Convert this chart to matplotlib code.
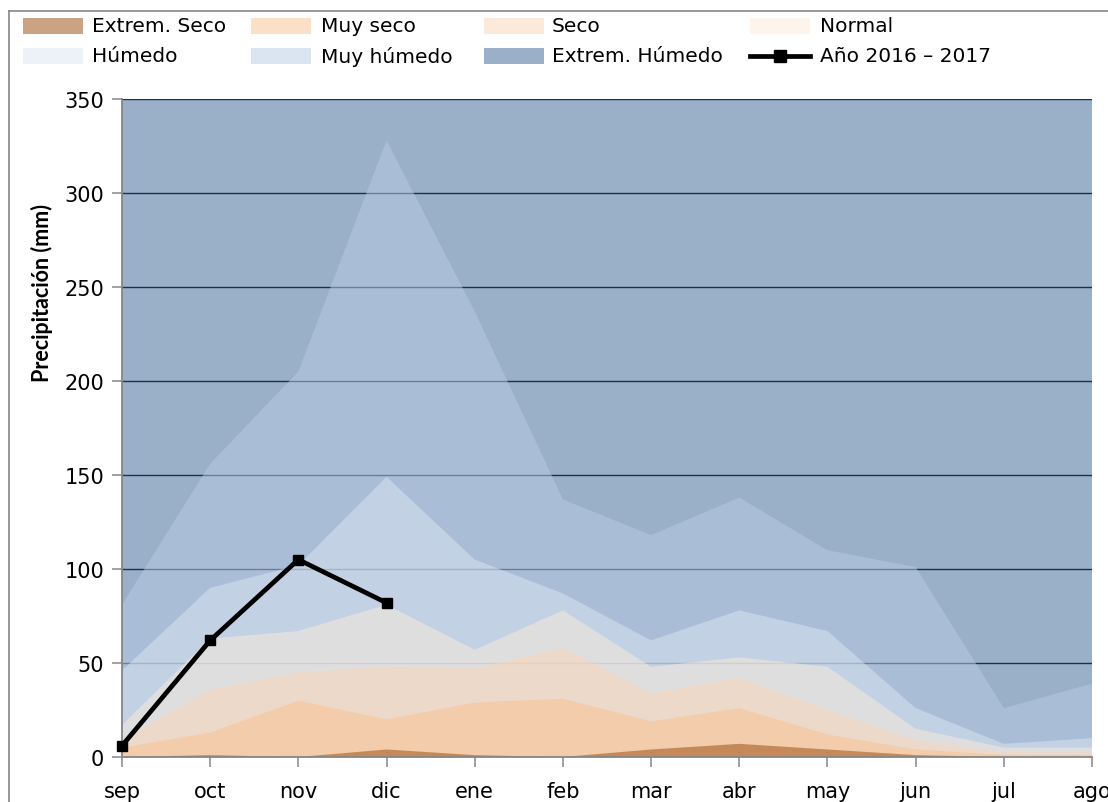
import matplotlib
matplotlib.use("Agg")
import matplotlib.pyplot as plt
from matplotlib.patches import Rectangle
from matplotlib.lines import Line2D

# ---- data ----
meses = ['sep', 'oct', 'nov', 'dic', 'ene', 'feb', 'mar', 'abr', 'may', 'jun', 'jul', 'ago']
extrem_humedo = [350, 350, 350, 350, 350, 350, 350, 350, 350, 350, 350, 350]
muy_humedo = [81, 156, 205, 328, 237, 137, 118, 138, 110, 101, 26, 39]
humedo = [46, 90, 102, 149, 105, 87, 62, 78, 67, 26, 7, 10]
normal = [17, 63, 67, 81, 57, 78, 48, 53, 48, 15, 5, 5]
seco = [9, 36, 45, 48, 47, 58, 34, 42, 25, 9, 2.5, 2.5]
muy_seco = [5, 13, 30, 20, 29, 31, 19, 26, 12, 4, 1.2, 1]
extrem_seco = [0, 1, 0, 4, 1, 0, 4, 7, 4, 1, 0, 0]
anio_meses = ['sep', 'oct', 'nov', 'dic']
anio_2016_2017 = [6, 62, 105, 82]

yticks = [0, 50, 100, 150, 200, 250, 300, 350]

# layers drawn from back to front
layers = [
    ('Extrem. Húmedo', extrem_humedo, '#376092'),
    ('Muy húmedo', muy_humedo, '#B9CDE5'),
    ('Húmedo', humedo, '#DCE6F2'),
    ('Normal', normal, '#FDEADA'),
    ('Seco', seco, '#FCD5B5'),
    ('Muy seco', muy_seco, '#FAC090'),
    ('Extrem. Seco', extrem_seco, '#984807'),
]
colors = {n: c for n, _, c in layers}
ALPHA = 0.5

W, H = 1108, 803
fig = plt.figure(figsize=(W / 100, H / 100), dpi=100)

def fx(px):
    return px / W

def fy(py):
    return 1 - py / H

left, right, top, bottom = 122, 1092, 100, 758
ax = fig.add_axes([fx(left), fy(bottom), fx(right) - fx(left), fy(top) - fy(bottom)])

x = list(range(len(meses)))
for name, vals, col in layers:
    ax.fill_between(x, 0, vals, facecolor=col, alpha=ALPHA, linewidth=0, zorder=1)

xa = [meses.index(m) for m in anio_meses]
ax.plot(xa, anio_2016_2017, color='black', lw=3.4, marker='s', markersize=7,
        markerfacecolor='black', markeredgecolor='black', zorder=5, clip_on=False)

ax.set_xlim(0, len(meses) - 1)
ax.set_ylim(0, 350)
ax.set_yticks(yticks)
ax.set_xticks(x)
ax.set_xticklabels(meses)
ax.set_axisbelow(True)
ax.yaxis.grid(True, color='black', lw=1.0, zorder=0)
ax.xaxis.grid(False)

for s in ['top', 'right']:
    ax.spines[s].set_visible(False)
for s in ['left', 'bottom']:
    ax.spines[s].set_color('#868686')
    ax.spines[s].set_linewidth(1.3)
ax.spines['bottom'].set_zorder(6)

ax.tick_params(axis='both', direction='out', length=7, width=1.1, color='#868686',
               labelsize=15, labelcolor='black')
ax.tick_params(axis='x', pad=10)
ax.tick_params(axis='y', pad=6)
for lab in ax.get_xticklabels() + ax.get_yticklabels():
    lab.set_family('DejaVu Sans')

fig.text(fx(42), fy(293), 'Precipitación (mm)', rotation=90, ha='center', va='center',
         fontsize=15.5, fontweight='bold', family='Lato')

# ---- legend (manual, Excel-like grid) ----
leg_rows = [27, 57]
patch_x = [23, 251, 484, 750]
text_x = [92, 321, 552, 820]
entries = [
    [('Extrem. Seco', 'patch'), ('Muy seco', 'patch'), ('Seco', 'patch'), ('Normal', 'patch')],
    [('Húmedo', 'patch'), ('Muy húmedo', 'patch'), ('Extrem. Húmedo', 'patch'), ('Año 2016 – 2017', 'line')],
]
for r, row in enumerate(entries):
    yc = leg_rows[r]
    for c, (name, kind) in enumerate(row):
        if kind == 'patch':
            fig.patches.append(Rectangle((fx(patch_x[c]), fy(yc + 8)), fx(60), 16 / H,
                                         transform=fig.transFigure, facecolor=colors[name],
                                         alpha=ALPHA, edgecolor='none'))
        else:
            fig.lines.append(Line2D([fx(patch_x[c]), fx(patch_x[c] + 60)], [fy(yc), fy(yc)],
                                    transform=fig.transFigure, color='black', lw=3.4))
            fig.lines.append(Line2D([fx(patch_x[c] + 30)], [fy(yc)], transform=fig.transFigure,
                                    color='black', marker='s', markersize=9, lw=0))
        fig.text(fx(text_x[c]), fy(yc), name, ha='left', va='center', fontsize=14.5,
                 family='DejaVu Sans')

# chart-area border
fig.lines.append(Line2D([fx(9), fx(W + 5)], [fy(12), fy(12)], transform=fig.transFigure,
                        color='#868686', lw=1.2))
fig.lines.append(Line2D([fx(9), fx(9)], [fy(12), fy(H + 5)], transform=fig.transFigure,
                        color='#868686', lw=1.2))

fig.savefig('out.png', dpi=100)
